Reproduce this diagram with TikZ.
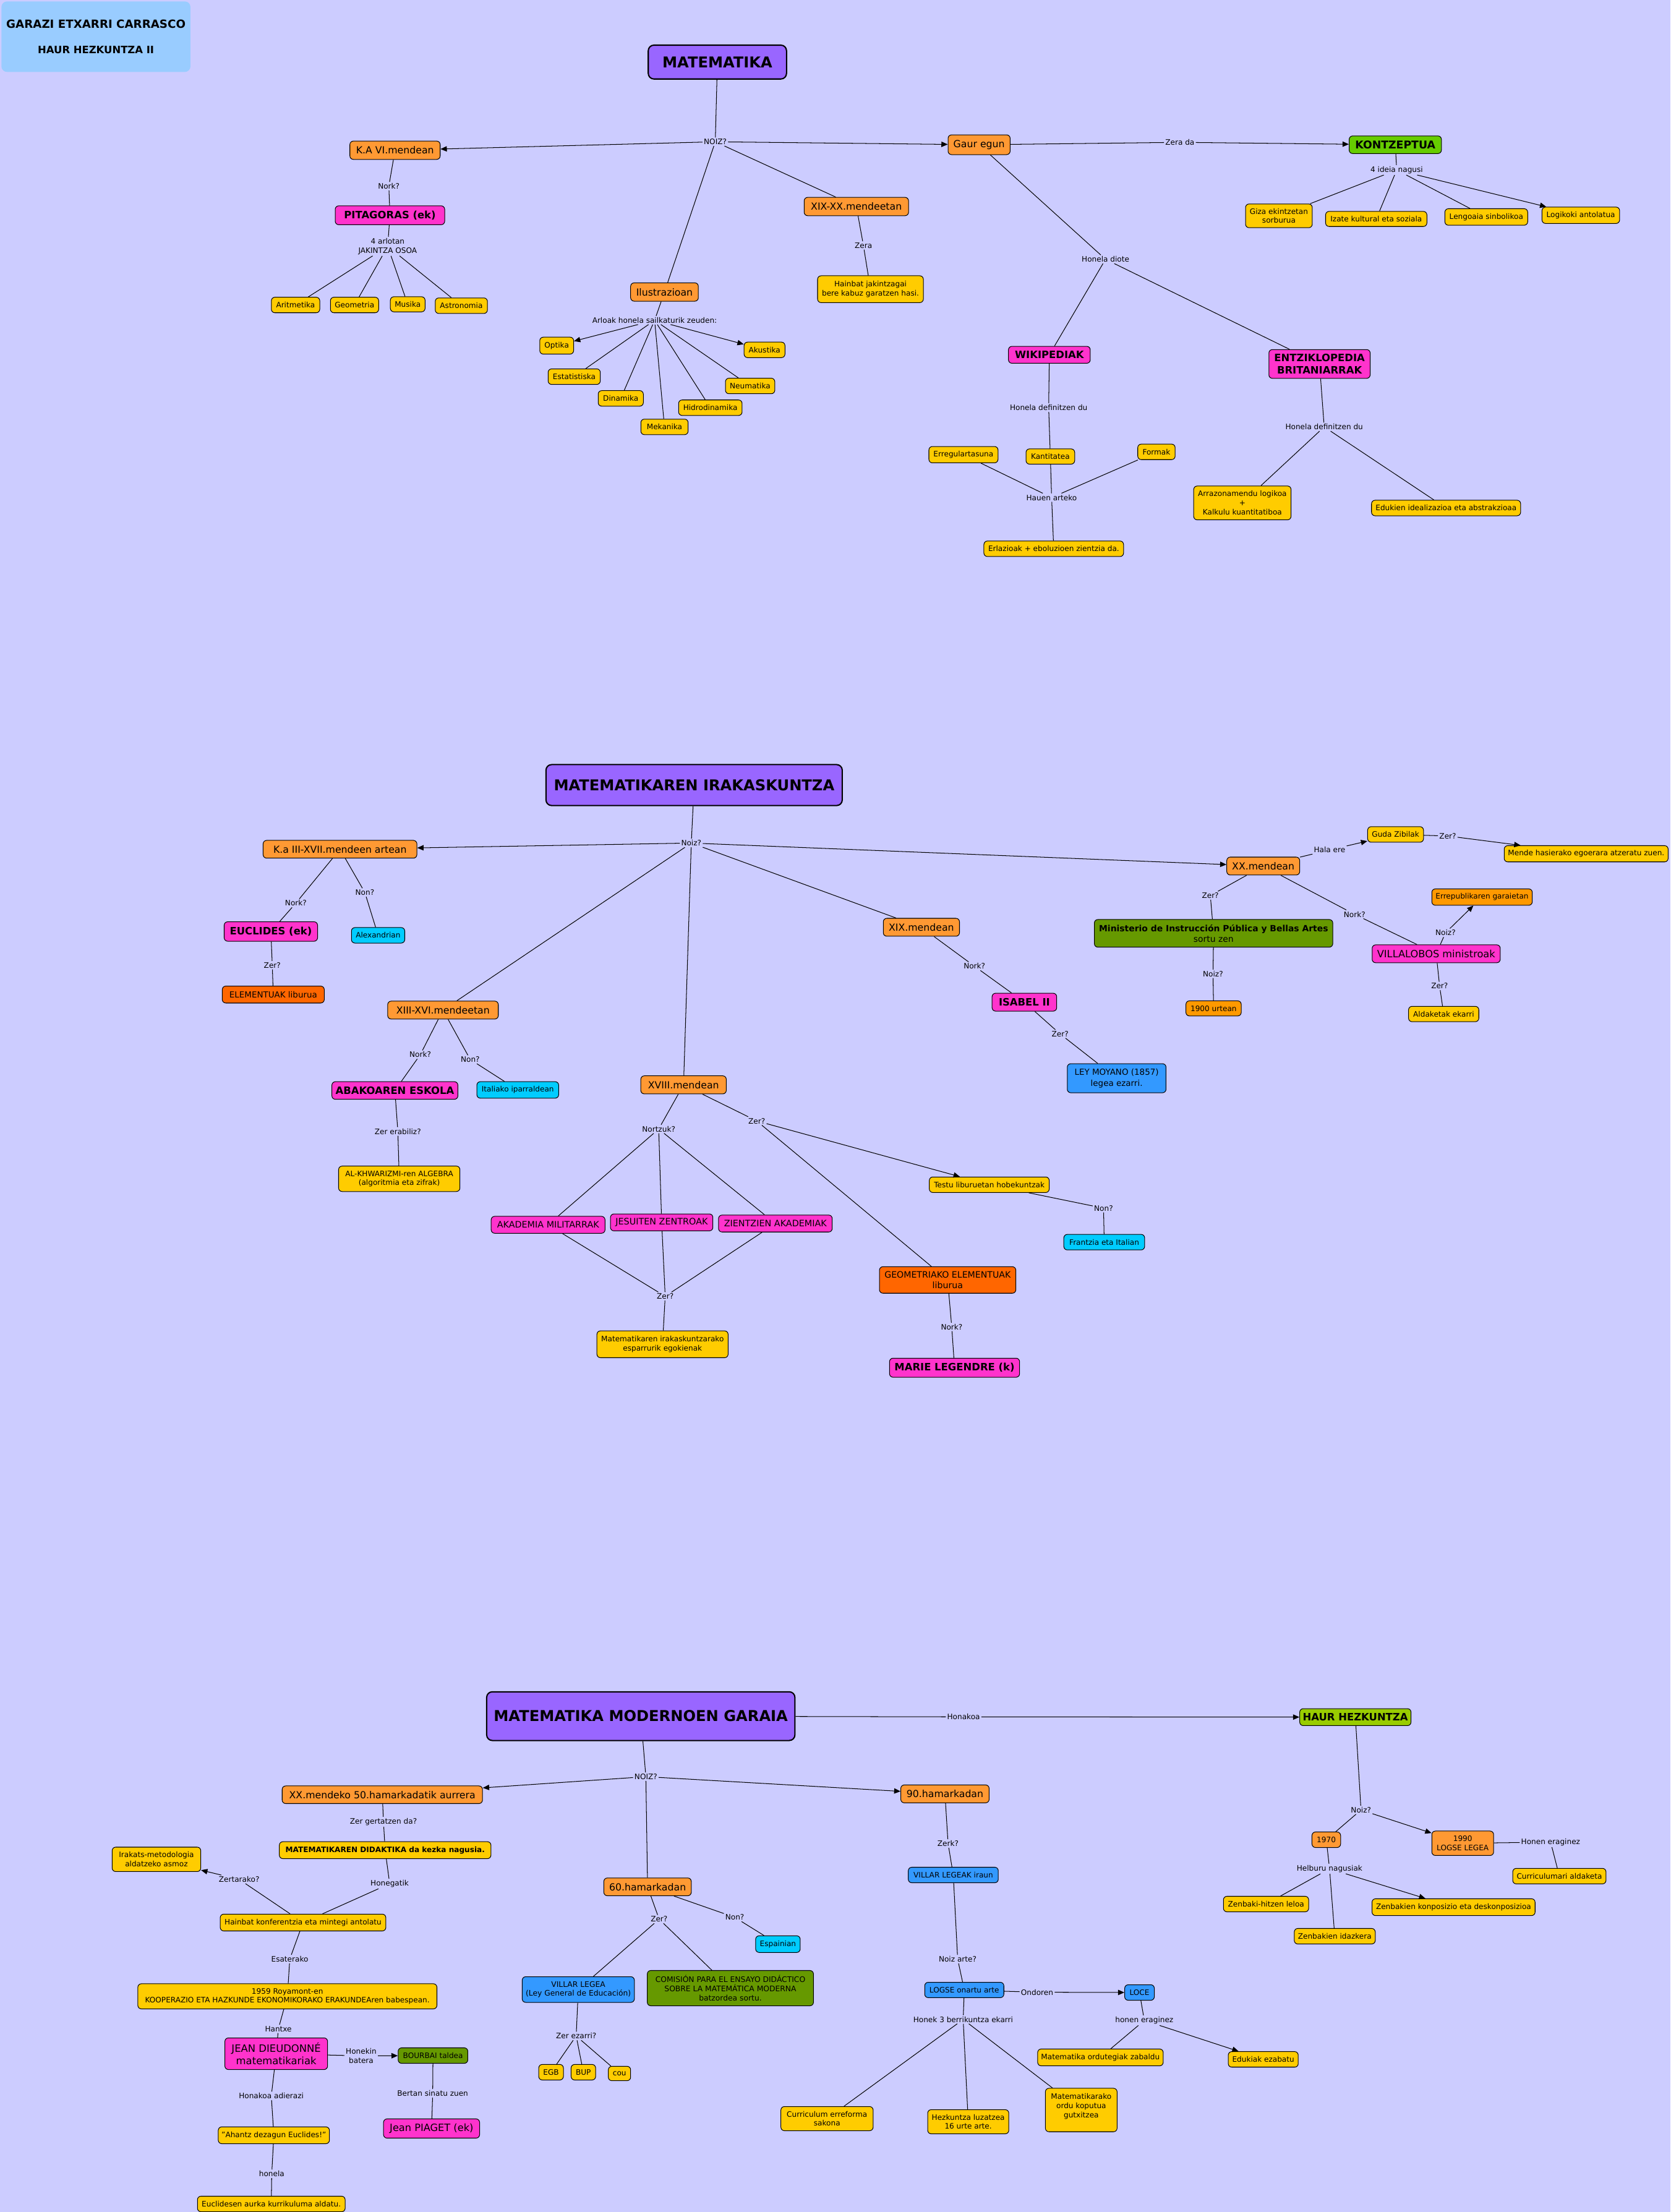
\documentclass[tikz,border=0pt]{standalone}
\usepackage{fontspec}
\setmainfont{DejaVu Sans}
\usetikzlibrary{arrows.meta}
\definecolor{bgc}{HTML}{CCCCFF}
\definecolor{ctitle}{HTML}{99CCFF}
\definecolor{cpur}{HTML}{9966FF}
\definecolor{corg}{HTML}{FF9933}
\definecolor{cyel}{HTML}{FFCC00}
\definecolor{cmag}{HTML}{FF33CC}
\definecolor{ckg}{HTML}{66CC00}
\definecolor{chg}{HTML}{99CC00}
\definecolor{cdg}{HTML}{669900}
\definecolor{ccy}{HTML}{00CCFF}
\definecolor{cbl}{HTML}{3399FF}
\definecolor{cdo}{HTML}{FF6600}
\definecolor{co2}{HTML}{FF9900}
\tikzset{
  bx/.style={rectangle, rounded corners=2.5pt, draw=black, line width=0.45pt, inner sep=0.8pt, align=center},
  fs/.style={font=\fontsize{5.3}{6.5}\selectfont},
  fsb/.style={font=\fontsize{5.3}{6.5}\selectfont\bfseries},
  fm/.style={font=\fontsize{6.9}{8.4}\selectfont},
  fmb/.style={font=\fontsize{7.2}{8.8}\selectfont\bfseries},
  fl/.style={font=\fontsize{7.1}{8.6}\selectfont},
  ft/.style={font=\fontsize{10.6}{13}\selectfont\bfseries},
  tb/.style={rectangle, rounded corners=4pt, fill=ctitle, align=center, inner sep=0pt, font=\fontsize{8}{9.6}\selectfont\bfseries},
  pb/.style={bx, fill=cpur, line width=0.9pt, rounded corners=4pt, ft},
  ob/.style={bx, fill=corg, fm},
  osb/.style={bx, fill=corg, fs},
  yb/.style={bx, fill=cyel, fs},
  ybb/.style={bx, fill=cyel, fsb},
  mbb/.style={bx, fill=cmag, fmb},
  mgb/.style={bx, fill=cmag, font=\fontsize{6.3}{7.6}\selectfont},
  mgl/.style={bx, fill=cmag, fl},
  mgj/.style={bx, fill=cmag, font=\fontsize{7.2}{8.6}\selectfont},
  kgb/.style={bx, fill=ckg, font=\fontsize{7.6}{9}\selectfont\bfseries},
  hgb/.style={bx, fill=chg, font=\fontsize{7.2}{8.8}\selectfont\bfseries},
  dgb/.style={bx, fill=cdg, font=\fontsize{6.1}{7.5}\selectfont},
  dgs/.style={bx, fill=cdg, font=\fontsize{5.4}{6.6}\selectfont},
  cb/.style={bx, fill=ccy, fs},
  bb/.style={bx, fill=cbl, font=\fontsize{5.9}{7.8}\selectfont},
  bbs/.style={bx, fill=cbl, fs},
  dob/.style={bx, fill=cdo, font=\fontsize{5.9}{7.2}\selectfont},
  o2b/.style={bx, fill=co2, fs},
  lbl/.style={fill=bgc, inner sep=0.8pt, fs, align=center},
  ln/.style={line width=0.45pt, draw=black},
  ar/.style={ln, -{Triangle[length=4.5pt,width=3.8pt]}},
}
\newcommand\mybx[6]{\node[#1, minimum width=#4pt, minimum height=#5pt] (#2) at (#3) {#6};}
\newcommand\mylb[3]{\node[lbl] (#1) at (#2) {#3};}
\newcommand\myln[2]{\draw[ln] (#1) -- (#2);}
\newcommand\myar[2]{\draw[ar] (#1) -- (#2);}
\begin{document}
\begin{tikzpicture}[x=1pt,y=-1pt]
\useasboundingbox (0,0) rectangle (1184,1568);
\fill[bgc] (0,0) rectangle (1184,1568);

% ---------------- Section 1 ----------------
\node[tb, minimum width=134pt, minimum height=50pt] (title) at (68,26) {GARAZI ETXARRI CARRASCO\\[8pt]{\fontsize{7.2}{8.6}\selectfont\bfseries HAUR HEZKUNTZA II}};
\mybx{pb}{mat}{508.5,44}{98}{24}{MATEMATIKA}
\mylb{noiz1}{507,100.5}{NOIZ?}
\mybx{ob}{ka6}{280,106.5}{64}{13}{K.A VI.mendean}
\mybx{ob}{gaur}{694,102.6}{44}{14}{Gaur egun}
\mybx{ob}{xixxx}{607,146.4}{74}{13}{XIX-XX.mendeetan}
\mybx{ob}{ilus}{471,207}{48}{13}{Ilustrazioan}
\mylb{nork1}{275.6,132}{Nork?}
\mybx{mbb}{pita}{276.4,152.6}{77.6}{13.4}{PITAGORAS (ek)}
\mylb{arlo4}{274.8,174.6}{4 arlotan\\JAKINTZA OSOA}
\mybx{yb}{arit}{209.5,216.2}{34.3}{11}{Aritmetika}
\mybx{yb}{geom}{251.3,216.2}{34.2}{11}{Geometria}
\mybx{yb}{musi}{289,215.7}{24.6}{10.7}{Musika}
\mybx{yb}{astr}{327,216.7}{37}{11}{Astronomia}
\mylb{zera}{612,174}{Zera}
\mybx{yb}{hainb}{617,205}{75}{19}{Hainbat jakintzagai\\bere kabuz garatzen hasi.}
\mylb{arloak}{464,227}{Arloak honela sailkaturik zeuden:}
\mybx{yb}{opti}{394.6,245}{24}{12}{Optika}
\mybx{yb}{esta}{407,267}{37}{11}{Estatistiska}
\mybx{yb}{dina}{440,282.4}{32}{11}{Dinamika}
\mybx{yb}{meka}{471,302.6}{33.5}{11}{Mekanika}
\mybx{yb}{hidr}{503.5,289}{45}{11}{Hidrodinamika}
\mybx{yb}{neum}{531.7,273.6}{35}{11}{Neumatika}
\mybx{yb}{akus}{541.9,248}{29}{11}{Akustika}
\mylb{zerada}{836.3,100.9}{Zera da}
\mybx{kgb}{kontz}{989,102.6}{65.4}{12.5}{KONTZEPTUA}
\mylb{ideia}{990,120.5}{4 ideia nagusi}
\mybx{yb}{giza}{906.5,153}{47.3}{16.8}{Giza ekintzetan\\sorburua}
\mybx{yb}{izate}{975.5,155.2}{71.8}{10.7}{Izate kultural eta soziala}
\mybx{yb}{lengo}{1053.5,153.8}{58.7}{11.7}{Lengoaia sinbolikoa}
\mybx{yb}{logik}{1120.5,152.6}{55}{11.6}{Logikoki antolatua}
\mylb{diote}{783.6,183.8}{Honela diote}
\mybx{mbb}{wiki}{743.8,251.5}{58}{12}{WIKIPEDIAK}
\mybx{mbb}{entz}{935.3,258}{71.8}{20.4}{ENTZIKLOPEDIA\\BRITANIARRAK}
\mylb{defw}{743.3,288.9}{Honela definitzen du}
\mylb{defe}{938.6,302.6}{Honela definitzen du}
\mybx{yb}{erreg}{682.9,322.3}{49}{11.6}{Erregulartasuna}
\mybx{yb}{kant}{744.5,323.6}{34.5}{10.8}{Kantitatea}
\mybx{yb}{form}{819.7,320.3}{26.5}{11}{Formak}
\mylb{hauen}{745.4,352.7}{Hauen arteko}
\mybx{yb}{erlaz}{746.9,389}{99}{11}{Erlazioak + eboluzioen zientzia da.}
\mybx{yb}{arraz}{880.6,356.5}{69}{24}{Arrazonamendu logikoa\\+\\Kalkulu kuantitatiboa}
\mybx{yb}{eduk}{1025,360.1}{105.7}{11}{Edukien idealizazioa eta abstrakzioaa}

\myln{mat}{noiz1}
\myar{noiz1}{ka6}
\myar{noiz1}{gaur}
\myln{noiz1}{xixxx}
\myln{noiz1}{ilus}
\myln{ka6}{nork1}
\myln{nork1}{pita}
\myln{pita}{arlo4}
\myln{arlo4}{arit}
\myln{arlo4}{geom}
\myln{arlo4}{musi}
\myln{arlo4}{astr}
\myln{xixxx}{zera}
\myln{zera}{hainb}
\myln{ilus}{arloak}
\myar{arloak}{opti}
\myln{arloak}{esta}
\myln{arloak}{dina}
\myln{arloak}{meka}
\myln{arloak}{hidr}
\myln{arloak}{neum}
\myar{arloak}{akus}
\myln{gaur}{zerada}
\myar{zerada}{kontz}
\myln{kontz}{ideia}
\myln{ideia}{giza}
\myln{ideia}{izate}
\myln{ideia}{lengo}
\myar{ideia}{logik}
\myln{gaur}{diote}
\myln{diote}{wiki}
\myln{diote}{entz}
\myln{wiki}{defw}
\myln{defw}{kant}
\myln{erreg}{hauen}
\myln{kant}{hauen}
\myln{form}{hauen}
\myln{hauen}{erlaz}
\myln{entz}{defe}
\myln{defe}{arraz}
\myln{defe}{eduk}

% ---------------- Section 2 ----------------
\mybx{pb}{mir}{492,556.5}{210}{29}{MATEMATIKAREN IRAKASKUNTZA}
\mylb{noiz2}{490,597.6}{Noiz?}
\mybx{ob}{ka3}{241,602}{109}{12.6}{K.a III-XVII.mendeen artean}
\mylb{nork2}{209.7,640.2}{Nork?}
\mylb{non2}{258.6,632.6}{Non?}
\mybx{mbb}{eucl}{192,660.3}{66.2}{13.8}{EUCLIDES (ek)}
\mybx{cb}{alex}{268,663}{37.8}{11}{Alexandrian}
\mylb{zerA}{193,684.2}{Zer?}
\mybx{dob}{elem}{193.7,705}{72.3}{12}{ELEMENTUAK liburua}
\mybx{ob}{xiii}{314,716}{78.4}{12.7}{XIII-XVI.mendeetan}
\mylb{nork2b}{297.9,747.6}{Nork?}
\mylb{non2b}{333.3,751}{Non?}
\mybx{mbb}{abak}{279.9,773}{89.3}{12.5}{ABAKOAREN ESKOLA}
\mybx{cb}{ital}{367,772.6}{58}{11.7}{Italiako iparraldean}
\mylb{zerer}{282,802}{Zer erabiliz?}
\mybx{yb}{alkh}{283,835.6}{86}{18}{AL-KHWARIZMI-ren ALGEBRA\\(algoritmia eta zifrak)}
\mybx{ob}{xviii}{484.5,769}{60.6}{12.8}{XVIII.mendean}
\mylb{nortz}{466.9,800.3}{Nortzuk?}
\mylb{zerB}{536.4,794.6}{Zer?}
\mybx{mgb}{akad}{388.5,868.2}{80.7}{12}{AKADEMIA MILITARRAK}
\mybx{mgb}{jesu}{469,866.5}{72.6}{12}{JESUITEN ZENTROAK}
\mybx{mgb}{zient}{549.6,867.3}{80.6}{12}{ZIENTZIEN AKADEMIAK}
\mylb{zerC}{471.5,918.9}{Zer?}
\mybx{yb}{esparr}{469.6,952.9}{93}{19}{Matematikaren irakaskuntzarako\\esparrurik egokienak}
\mybx{yb}{testu}{701.2,839.8}{85}{11}{Testu liburuetan hobekuntzak}
\mylb{non2c}{782.2,856.4}{Non?}
\mybx{cb}{frant}{782.7,880.5}{57.3}{11}{Frantzia eta Italian}
\mybx{dob,font=\fontsize{6.2}{7.4}\selectfont}{geome}{671.7,907.3}{96.7}{18.8}{GEOMETRIAKO ELEMENTUAK\\liburua}
\mylb{nork2c}{674.6,940.6}{Nork?}
\mybx{mbb}{marie}{676.6,969.5}{92.2}{13.5}{MARIE LEGENDRE (k)}
\mybx{ob}{xix}{653.1,657.3}{54}{12.7}{XIX.mendean}
\mylb{nork2d}{690.7,684.9}{Nork?}
\mybx{mbb}{isab}{726.1,710.4}{45.8}{12.7}{ISABEL II}
\mylb{zerD}{751.4,732.9}{Zer?}
\mybx{bb}{moyano}{791.5,764.3}{70}{20.6}{LEY MOYANO (1857)\\legea ezarri.}
\mybx{ob}{xx}{895.4,613.9}{51.7}{12.7}{XX.mendean}
\mylb{hala}{942.4,602.5}{Hala ere}
\mybx{yb}{guda}{989.2,591.5}{39.6}{11}{Guda Zibilak}
\mylb{zerE}{1026.2,592.6}{Zer?}
\mybx{yb}{mende}{1124.3,605.2}{116.2}{11.5}{Mende hasierako egoerara atzeratu zuen.}
\mylb{zerF}{857.9,634.8}{Zer?}
\mybx{dgb}{minis}{860.2,661.6}{169}{19.6}{{\bfseries Ministerio de Instrucción Pública y Bellas Artes}\\sortu zen}
\mylb{noiz2b}{859.8,690.3}{Noiz?}
\mybx{o2b}{u1900}{860.2,714.8}{39.2}{10.7}{1900 urtean}
\mylb{nork2e}{960.1,648.1}{Nork?}
\mybx{mgl}{villa}{1018,676.1}{90.8}{12.7}{VILLALOBOS ministroak}
\mylb{noiz2c}{1024.6,661.2}{Noiz?}
\mybx{o2b}{errep}{1050.5,635.9}{71.2}{11.6}{Errepublikaren garaietan}
\mylb{zerG}{1020.4,698.9}{Zer?}
\mybx{yb}{aldak}{1023.3,718.8}{49.8}{10.9}{Aldaketak ekarri}

\myln{mir}{noiz2}
\myar{noiz2}{ka3}
\myar{noiz2}{xx}
\myln{noiz2}{xix}
\myln{noiz2}{xiii}
\myln{noiz2}{xviii}
\myln{ka3}{nork2}
\myln{nork2}{eucl}
\myln{ka3}{non2}
\myln{non2}{alex}
\myln{eucl}{zerA}
\myln{zerA}{elem}
\myln{xiii}{nork2b}
\myln{nork2b}{abak}
\myln{xiii}{non2b}
\myln{non2b}{ital}
\myln{abak}{zerer}
\myln{zerer}{alkh}
\myln{xviii}{nortz}
\myln{nortz}{akad}
\myln{nortz}{jesu}
\myln{nortz}{zient}
\myln{akad}{zerC}
\myln{jesu}{zerC}
\myln{zient}{zerC}
\myln{zerC}{esparr}
\myln{xviii}{zerB}
\myar{zerB}{testu}
\myln{zerB}{geome}
\myln{testu}{non2c}
\myln{non2c}{frant}
\myln{geome}{nork2c}
\myln{nork2c}{marie}
\myln{xix}{nork2d}
\myln{nork2d}{isab}
\myln{isab}{zerD}
\myln{zerD}{moyano}
\myln{xx}{hala}
\myar{hala}{guda}
\myln{guda}{zerE}
\myar{zerE}{mende}
\myln{xx}{zerF}
\myln{zerF}{minis}
\myln{minis}{noiz2b}
\myln{noiz2b}{u1900}
\myln{xx}{nork2e}
\myln{nork2e}{villa}
\myln{villa}{noiz2c}
\myar{noiz2c}{errep}
\myln{villa}{zerG}
\myln{zerG}{aldak}

% ---------------- Section 3 ----------------
\mybx{pb}{mmg}{454.2,1216.5}{218.5}{34.5}{MATEMATIKA MODERNOEN GARAIA}
\mylb{honakoa}{683,1217}{Honakoa}
\mybx{hgb}{hh}{960.7,1217.2}{78.9}{12}{HAUR HEZKUNTZA}
\mylb{noiz3}{457.8,1259.4}{NOIZ?}
\mybx{ob}{xx50}{271,1272.2}{142}{12.5}{XX.mendeko 50.hamarkadatik aurrera}
\mylb{zerg}{271.8,1291.4}{Zer gertatzen da?}
\mybx{ybb}{didak}{273,1311.5}{150}{12}{MATEMATIKAREN DIDAKTIKA da kezka nagusia.}
\mybx{yb}{irak}{110.9,1318}{62.8}{17.3}{Irakats-metodologia\\aldatzeko asmoz}
\mylb{zertar}{169.5,1332.2}{Zertarako?}
\mylb{honeg}{276.2,1335.3}{Honegatik}
\mybx{yb}{konf}{214.8,1362.8}{117.4}{11.9}{Hainbat konferentzia eta mintegi antolatu}
\mylb{esat}{205.4,1388.7}{Esaterako}
\mybx{yb}{roya}{203.7,1415.1}{212}{17.8}{1959 Royamont-en\\KOOPERAZIO ETA HAZKUNDE EKONOMIKORAKO ERAKUNDEAren babespean.}
\mylb{hantx}{197.3,1438.2}{Hantxe}
\mybx{mgj}{jean}{195.8,1455.8}{72.8}{22.4}{JEAN DIEUDONNÉ\\matematikariak}
\mylb{honek}{256,1457.3}{Honekin\\batera}
\mybx{dgs,fs}{bourb}{306.9,1457.1}{49.4}{11}{BOURBAI taldea}
\mylb{bertan}{306.7,1483.9}{Bertan sinatu zuen}
\mybx{mgl}{piag}{305.9,1508.8}{68.1}{13.6}{Jean PIAGET (ek)}
\mylb{honak}{192.3,1485.7}{Honakoa adierazi}
\mybx{yb}{ahantz}{194.1,1513.6}{78.8}{11.9}{"Ahantz dezagun Euclides!"}
\mylb{honela}{192.6,1540.9}{honela}
\mybx{yb}{euclid}{192.3,1562.3}{104.7}{11}{Euclidesen aurka kurrikuluma aldatu.}
\mybx{ob}{h60}{459,1337.5}{62}{12.6}{60.hamarkadan}
\mylb{zer3}{467.2,1360.4}{Zer?}
\mylb{non3}{520.8,1359.1}{Non?}
\mybx{cb}{espa}{551.4,1378.1}{31.6}{11.8}{Espainian}
\mybx{bb,font=\fontsize{5.4}{6.5}\selectfont}{villar}{409.9,1410.3}{79.5}{18.2}{VILLAR LEGEA\\(Ley General de Educación)}
\mybx{dgs}{comis}{517.7,1409.3}{117.8}{25}{COMISIÓN PARA EL ENSAYO DIDÁCTICO\\SOBRE LA MATEMÁTICA MODERNA\\batzordea sortu.}
\mylb{zerez}{408.4,1443.2}{Zer ezarri?}
\mybx{yb}{egb}{390.6,1468.9}{17.5}{11}{EGB}
\mybx{yb}{bup}{413.5,1468.9}{17.4}{11}{BUP}
\mybx{yb}{cou}{439.1,1469.8}{15.8}{10.2}{cou}
\mybx{ob}{h90}{669.8,1271.6}{62.6}{12.7}{90.hamarkadan}
\mylb{zerk}{672,1306.8}{Zerk?}
\mybx{bbs}{villarb}{675.7,1329.1}{63.8}{11}{VILLAR LEGEAK iraun}
\mylb{noizar}{678.8,1388.7}{Noiz arte?}
\mybx{bbs}{logse}{683.5,1410.6}{56.1}{10.9}{LOGSE onartu arte}
\mylb{ondor}{735.1,1412.2}{Ondoren}
\mybx{bbs}{loce}{807.7,1412.4}{21}{11}{LOCE}
\mylb{honekh}{682.7,1431.5}{Honek 3 berrikuntza ekarri}
\mylb{honen}{811.1,1432.2}{honen eraginez}
\mybx{yb}{ordut}{780,1458.4}{89}{11.9}{Matematika ordutegiak zabaldu}
\mybx{yb}{ezab}{895.4,1459.8}{49.6}{11}{Edukiak ezabatu}
\mybx{yb}{curr}{586.2,1501.8}{65.4}{17.1}{Curriculum erreforma\\sakona}
\mybx{yb}{hezk}{686.3,1504}{57.5}{17.1}{Hezkuntza luzatzea\\16 urte arte.}
\mybx{yb}{ordu}{766.4,1495.7}{50.8}{30.8}{Matematikarako\\ordu koputua\\gutxitzea\\\phantom{x}}
\mylb{noiz3b}{964.7,1283}{Noiz?}
\mybx{osb}{ya}{940.1,1304.1}{20.3}{11}{1970}
\mybx{osb}{yb}{1036.8,1306.6}{43.8}{17.3}{1990\\LOGSE LEGEA}
\mylb{honenb}{1099.1,1305.8}{Honen eraginez}
\mybx{yb}{curri}{1105.3,1329.9}{66.1}{11}{Curriculumari aldaketa}
\mylb{helb}{942.4,1324.7}{Helburu nagusiak}
\mybx{yb}{zhitz}{897.4,1349.7}{60.4}{11}{Zenbaki-hitzen leloa}
\mybx{yb}{zkonp}{1030.3,1351.9}{115.6}{11.9}{Zenbakien konposizio eta deskonposizioa}
\mybx{yb}{zidaz}{946.1,1372.5}{57.4}{11}{Zenbakien idazkera}

\myln{mmg}{honakoa}
\myar{honakoa}{hh}
\myln{mmg}{noiz3}
\myar{noiz3}{xx50}
\myar{noiz3}{h90}
\myln{noiz3}{h60}
\myln{xx50}{zerg}
\myln{zerg}{didak}
\myln{didak}{honeg}
\myln{honeg}{konf}
\myln{konf}{zertar}
\myar{zertar}{irak}
\myln{konf}{esat}
\myln{esat}{roya}
\myln{roya}{hantx}
\myln{hantx}{jean}
\myln{jean}{honek}
\myar{honek}{bourb}
\myln{bourb}{bertan}
\myln{bertan}{piag}
\myln{jean}{honak}
\myln{honak}{ahantz}
\myln{ahantz}{honela}
\myln{honela}{euclid}
\myln{h60}{zer3}
\myln{zer3}{villar}
\myln{zer3}{comis}
\myln{h60}{non3}
\myln{non3}{espa}
\myln{villar}{zerez}
\myln{zerez}{egb}
\myln{zerez}{bup}
\myln{zerez}{cou}
\myln{h90}{zerk}
\myln{zerk}{villarb}
\myln{villarb}{noizar}
\myln{noizar}{logse}
\myln{logse}{ondor}
\myar{ondor}{loce}
\myln{loce}{honen}
\myln{honen}{ordut}
\myar{honen}{ezab}
\myln{logse}{honekh}
\myln{honekh}{curr}
\myln{honekh}{hezk}
\myln{honekh}{ordu}
\myln{hh}{noiz3b}
\myln{noiz3b}{ya}
\myar{noiz3b}{yb}
\myln{yb}{honenb}
\myln{honenb}{curri}
\myln{ya}{helb}
\myln{helb}{zhitz}
\myln{helb}{zidaz}
\myar{helb}{zkonp}
\end{tikzpicture}
\end{document}
